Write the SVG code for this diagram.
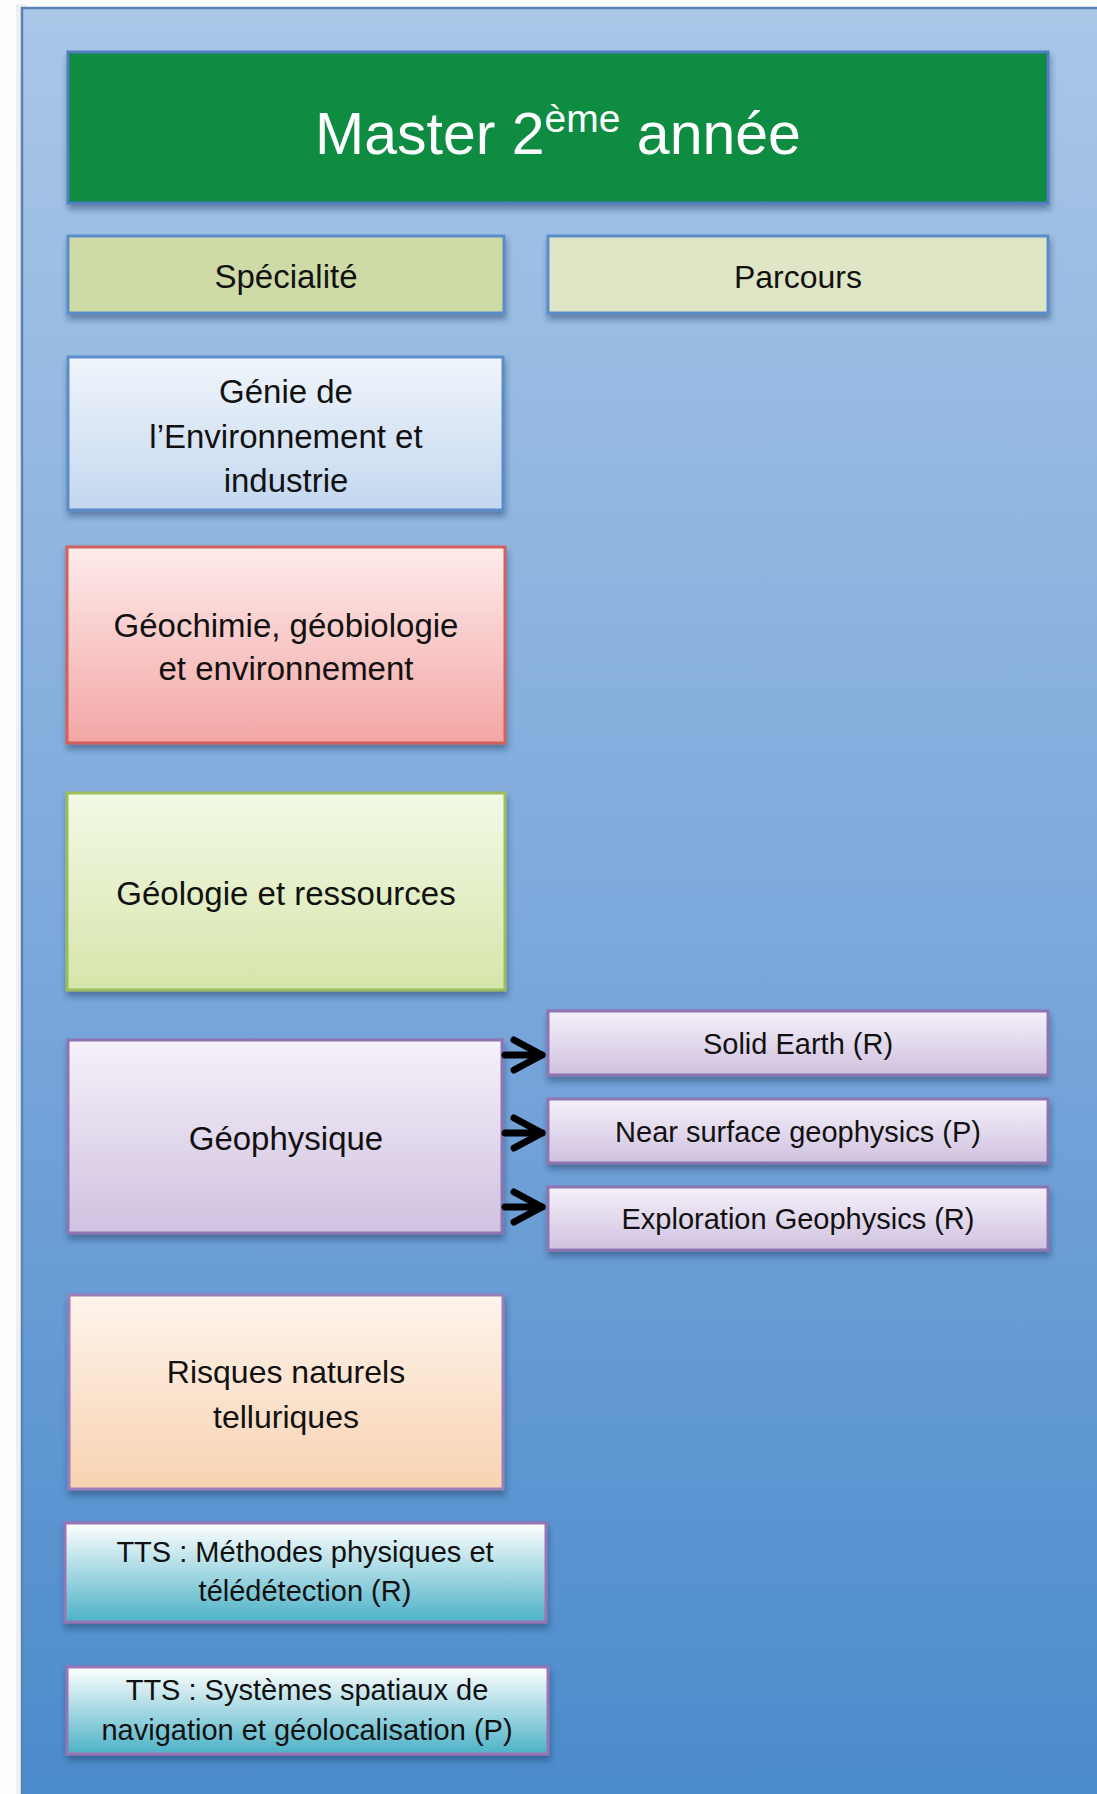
<svg xmlns="http://www.w3.org/2000/svg" width="1097" height="1794" viewBox="0 0 1097 1794">
<style>
text{font-family:"Liberation Sans",Arial,sans-serif;fill:#111;text-anchor:middle}
.t33{font-size:33px}
.t32{font-size:32px}
.t29{font-size:29px}
.box{stroke-width:3;filter:url(#sh)}
.conn{fill:none;stroke:#000;stroke-width:7;stroke-linecap:round}
</style>
<defs>
<filter id="sh" x="-10%" y="-10%" width="120%" height="130%">
<feDropShadow dx="1" dy="5" stdDeviation="3" flood-color="#1c3357" flood-opacity="0.45"/>
</filter>
<linearGradient id="bg" x1="0" y1="0" x2="0" y2="1">
<stop offset="0" stop-color="#a9c7e7"/>
<stop offset="0.5" stop-color="#7ea9dc"/>
<stop offset="1" stop-color="#4a8bcb"/>
</linearGradient>
<linearGradient id="gBlue" x1="0" y1="0" x2="0" y2="1">
<stop offset="0" stop-color="#f0f5fb"/>
<stop offset="1" stop-color="#c3d7ef"/>
</linearGradient>
<linearGradient id="gRed" x1="0" y1="0" x2="0" y2="1">
<stop offset="0" stop-color="#fdeceb"/>
<stop offset="1" stop-color="#f3a6a5"/>
</linearGradient>
<linearGradient id="gGreen" x1="0" y1="0" x2="0" y2="1">
<stop offset="0" stop-color="#f3f9e6"/>
<stop offset="1" stop-color="#d6e5aa"/>
</linearGradient>
<linearGradient id="gPurple" x1="0" y1="0" x2="0" y2="1">
<stop offset="0" stop-color="#f6f1f9"/>
<stop offset="1" stop-color="#cfc1e0"/>
</linearGradient>
<linearGradient id="gOrange" x1="0" y1="0" x2="0" y2="1">
<stop offset="0" stop-color="#fef4ec"/>
<stop offset="1" stop-color="#f8d2b1"/>
</linearGradient>
<linearGradient id="gTeal" x1="0" y1="0" x2="0" y2="1">
<stop offset="0" stop-color="#ffffff"/>
<stop offset="1" stop-color="#4cb2c7"/>
</linearGradient>
<marker id="chev" markerUnits="userSpaceOnUse" markerWidth="44" markerHeight="44" viewBox="-38 -22 44 44" refX="0" refY="0" orient="auto">
<path d="M-28,-15 L0,0 L-28,15" fill="none" stroke="#000" stroke-width="7" stroke-linecap="round" stroke-linejoin="round"/>
</marker>
</defs>

<rect x="0" y="0" width="1097" height="1794" fill="#fdfdfd"/>
<rect x="16" y="4" width="10" height="1790" fill="#eef0f2"/>
<rect id="panel" x="22" y="8" width="1090" height="1800" fill="url(#bg)" stroke="#5a82b6" stroke-width="2.5"/>

<g id="title">
<rect class="box" x="68" y="52" width="980" height="151" fill="#0b8c43" stroke="#4f7fbf"/>
<text x="558" y="154" font-size="59" style="fill:#fff"><tspan>Master 2</tspan><tspan dy="-22" font-size="39">ème</tspan><tspan dy="22"> année</tspan></text>
</g>

<g id="specialite">
<rect class="box" x="68" y="236" width="436" height="77" fill="#cfdba6" stroke="#5b8bc9"/>
<text class="t33" x="286" y="288">Spécialité</text>
</g>

<g id="parcours">
<rect class="box" x="548" y="236" width="500" height="77" fill="#dfe6c5" stroke="#5b8bc9"/>
<text class="t32" x="798" y="288">Parcours</text>
</g>

<g id="genie">
<rect class="box" x="68" y="357" width="435" height="153" fill="url(#gBlue)" stroke="#5b8bc9"/>
<text class="t33" x="286" y="403">Génie de</text>
<text class="t33" x="286" y="448">l’Environnement et</text>
<text class="t33" x="286" y="492">industrie</text>
</g>

<g id="geochimie">
<rect class="box" x="67" y="547" width="438" height="196" fill="url(#gRed)" stroke="#d2605d"/>
<text class="t33" x="286" y="637">Géochimie, géobiologie</text>
<text class="t33" x="286" y="680">et environnement</text>
</g>

<g id="geologie">
<rect class="box" x="67" y="793" width="438" height="197" fill="url(#gGreen)" stroke="#9dbd5c"/>
<text class="t33" x="286" y="905">Géologie et ressources</text>
</g>

<g id="geophysique">
<rect class="box" x="68" y="1040" width="434" height="193" fill="url(#gPurple)" stroke="#8e74b1"/>
<text class="t33" x="286" y="1150">Géophysique</text>
</g>

<g id="solid-earth">
<rect class="box" x="548" y="1011" width="500" height="64" fill="url(#gPurple)" stroke="#8e74b1"/>
<text class="t29" x="798" y="1054">Solid Earth (R)</text>
</g>

<g id="near-surface">
<rect class="box" x="548" y="1099" width="500" height="64" fill="url(#gPurple)" stroke="#8e74b1"/>
<text class="t29" x="798" y="1142">Near surface geophysics (P)</text>
</g>

<g id="exploration">
<rect class="box" x="548" y="1187" width="500" height="63" fill="url(#gPurple)" stroke="#8e74b1"/>
<text class="t29" x="798" y="1229">Exploration Geophysics (R)</text>
</g>

<g id="risques">
<rect class="box" x="69" y="1295" width="434" height="194" fill="url(#gOrange)" stroke="#9b7eb8"/>
<text class="t32" x="286" y="1383">Risques naturels</text>
<text class="t32" x="286" y="1428">telluriques</text>
</g>

<g id="tts-methodes">
<rect class="box" x="65" y="1523" width="481" height="99" fill="url(#gTeal)" stroke="#9a74b6"/>
<text class="t29" x="305" y="1562">TTS : Méthodes physiques et</text>
<text class="t29" x="305" y="1601">télédétection (R)</text>
</g>

<g id="tts-systemes">
<rect class="box" x="67" y="1667" width="481" height="87" fill="url(#gTeal)" stroke="#9a74b6"/>
<text class="t29" x="307" y="1700">TTS : Systèmes spatiaux de</text>
<text class="t29" x="307" y="1740">navigation et géolocalisation (P)</text>
</g>

<g id="connectors">
<path class="conn" d="M505,1055 H542" marker-end="url(#chev)"/>
<path class="conn" d="M505,1133 H542" marker-end="url(#chev)"/>
<path class="conn" d="M505,1207 H542" marker-end="url(#chev)"/>
</g>
</svg>
